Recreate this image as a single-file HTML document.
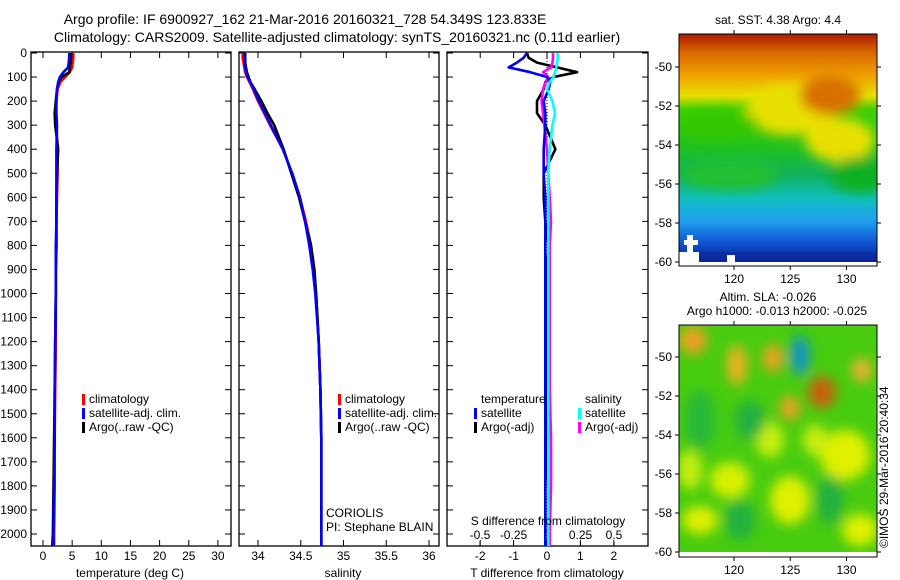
<!DOCTYPE html>
<html><head><meta charset="utf-8">
<style>
html,body{margin:0;padding:0;background:#fff;}
svg{display:block;font-family:"Liberation Sans",sans-serif;}
text{font-size:12px;fill:#000;}
.big{font-size:14px;}
</style></head>
<body>
<svg id="fig" width="900" height="580" viewBox="0 0 900 580" xmlns="http://www.w3.org/2000/svg">
<defs>
<filter id="blur6" x="-20%" y="-20%" width="140%" height="140%"><feGaussianBlur stdDeviation="6"/></filter>
<clipPath id="clipTop"><rect x="679" y="34" width="198" height="228"/></clipPath>
<clipPath id="clipBot"><rect x="679" y="325" width="198" height="227"/></clipPath>
<linearGradient id="sstGrad" x1="0" y1="0" x2="0" y2="1">
<stop offset="0" stop-color="#b01a00"/>
<stop offset="0.08" stop-color="#d86800"/>
<stop offset="0.18" stop-color="#f0a000"/>
<stop offset="0.27" stop-color="#e8e000"/>
<stop offset="0.33" stop-color="#40d000"/>
<stop offset="0.5" stop-color="#20c020"/>
<stop offset="0.62" stop-color="#10b060"/>
<stop offset="0.72" stop-color="#10c0c0"/>
<stop offset="0.82" stop-color="#20a0f0"/>
<stop offset="0.92" stop-color="#1050d0"/>
<stop offset="1" stop-color="#002090"/>
</linearGradient>
</defs>
<g id="titles">
<text class="big" x="305" y="24" text-anchor="middle">Argo profile: IF 6900927_162 21-Mar-2016 20160321_728 54.349S 123.833E</text>
<text class="big" x="337" y="42" text-anchor="middle">Climatology: CARS2009. Satellite-adjusted climatology: synTS_20160321.nc (0.11d earlier)</text>
</g>
<g id="p1"></g>
<g id="p2"></g>
<g id="p3"></g>
<g id="m1">
<text x="778" y="24" text-anchor="middle">sat. SST: 4.38 Argo: 4.4</text>
<g clip-path="url(#clipTop)">
<rect x="679" y="34" width="198" height="228" fill="url(#sstGrad)"/>
<g filter="url(#blur6)">
<ellipse cx="790" cy="110" rx="45" ry="25" fill="#e8e000"/>
<ellipse cx="840" cy="140" rx="35" ry="22" fill="#e8e000"/>
<ellipse cx="830" cy="95" rx="30" ry="20" fill="#d87000"/>
<ellipse cx="720" cy="125" rx="40" ry="14" fill="#30c800"/>
<ellipse cx="730" cy="175" rx="50" ry="15" fill="#20c030"/>
<ellipse cx="860" cy="175" rx="30" ry="18" fill="#10b020"/>
</g>
<rect x="679" y="252" width="198" height="10" fill="#102a98" opacity="0.6"/>
<rect x="679" y="252" width="20" height="10" fill="#fff"/>
<rect x="687" y="235" width="6" height="27" fill="#fff"/>
<rect x="684" y="240" width="14" height="5" fill="#fff"/>
<rect x="727" y="255" width="8" height="7" fill="#fff"/>
</g>
<rect x="679" y="34" width="198" height="232" fill="none" stroke="#000"/>
</g>
<g id="m2">
<text x="768" y="301" text-anchor="middle">Altim. SLA: -0.026</text>
<text x="777" y="315" text-anchor="middle">Argo h1000: -0.013 h2000: -0.025</text>
<g clip-path="url(#clipBot)">
<rect x="679" y="325" width="198" height="227" fill="#48cc10"/>
<g filter="url(#blur6)">
<ellipse cx="693" cy="340" rx="14" ry="14" fill="#f0a020"/>
<ellipse cx="737" cy="365" rx="10" ry="20" fill="#f0b020"/>
<ellipse cx="773" cy="358" rx="10" ry="14" fill="#f0a020"/>
<ellipse cx="800" cy="355" rx="9" ry="20" fill="#1090d0"/>
<ellipse cx="822" cy="392" rx="14" ry="16" fill="#c86010"/>
<ellipse cx="790" cy="408" rx="10" ry="12" fill="#f0a020"/>
<ellipse cx="862" cy="370" rx="10" ry="12" fill="#f0b030"/>
<ellipse cx="845" cy="455" rx="25" ry="25" fill="#e0f000"/>
<ellipse cx="730" cy="480" rx="20" ry="18" fill="#d8f000"/>
<ellipse cx="700" cy="520" rx="18" ry="14" fill="#e0f000"/>
<ellipse cx="790" cy="500" rx="20" ry="24" fill="#e0f000"/>
<ellipse cx="860" cy="530" rx="18" ry="16" fill="#e0f000"/>
<ellipse cx="770" cy="440" rx="14" ry="18" fill="#c8ee10"/>
<ellipse cx="690" cy="470" rx="12" ry="20" fill="#c8ee10"/>
<ellipse cx="815" cy="440" rx="12" ry="16" fill="#c8ee10"/>
<ellipse cx="750" cy="420" rx="15" ry="20" fill="#20b040"/>
<ellipse cx="700" cy="420" rx="15" ry="30" fill="#28b838"/>
<ellipse cx="740" cy="520" rx="15" ry="20" fill="#20b040"/>
<ellipse cx="830" cy="500" rx="14" ry="24" fill="#20b040"/>
</g>
</g>
<rect x="679" y="325" width="198" height="232" fill="none" stroke="#000"/>
<text transform="translate(888,548) rotate(-90)">©IMOS 29-Mar-2016 20:40:34</text>
</g>
</svg>
<script>
// ---------- data ----------
const depths = [0,20,40,60,80,100,120,150,200,250,300,400,500,600,700,800,900,1000,1200,1400,1600,1800,2000,2050];
const tempClim = [5.2,5.2,5.1,5.0,4.6,3.8,3.0,2.5,2.3,2.2,2.3,2.5,2.5,2.4,2.3,2.3,2.2,2.2,2.2,2.1,2.0,2.0,1.9,1.9];
const tempSat  = [4.5,4.5,4.4,4.3,3.5,2.9,2.6,2.4,2.3,2.3,2.4,2.3,2.3,2.3,2.3,2.2,2.2,2.2,2.1,2.0,2.0,1.9,1.8,1.8];
const tempArgo = [4.8,4.8,4.7,4.6,4.5,3.2,2.7,2.4,2.2,2.0,2.1,2.6,2.4,2.3,2.3,2.3,2.2,2.2,2.1,2.0,1.9,1.8,1.7,1.6];
const salClim = [33.82,33.82,33.83,33.84,33.85,33.87,33.9,33.94,34.0,34.07,34.14,34.29,34.4,34.49,34.56,34.62,34.65,34.68,34.71,34.73,34.74,34.74,34.74,34.74];
const salSat  = [33.84,33.84,33.84,33.85,33.86,33.88,33.91,33.95,34.01,34.08,34.15,34.29,34.4,34.49,34.55,34.6,34.64,34.67,34.71,34.73,34.74,34.74,34.74,34.74];
const salArgo = [33.85,33.85,33.85,33.86,33.87,33.89,33.91,33.96,34.04,34.11,34.19,34.3,34.39,34.48,34.55,34.62,34.66,34.68,34.71,34.73,34.74,34.74,34.74,34.74];
const dtSat  = [-0.6,-0.7,-0.9,-1.15,-0.5,0.0,0.1,0.05,-0.1,-0.05,-0.05,-0.1,-0.1,-0.05,-0.05,-0.05,-0.05,-0.05,-0.05,-0.05,-0.05,-0.05,-0.05,-0.05];
const dtArgo = [-0.6,-0.55,-0.3,0.3,0.9,0.2,-0.05,-0.1,-0.3,-0.3,-0.05,0.25,-0.1,-0.1,-0.05,0.05,0.0,0.0,0.0,0.0,0.0,-0.05,-0.05,-0.05];
const dsSat  = [0.08,0.08,0.075,0.07,0.06,0.05,0.02,0.0,0.04,0.06,0.04,0.02,0.01,0.01,0.01,0.01,0.01,0.01,0.01,0.01,0.01,0.01,0.01,0.01];
const dsArgo = [0.045,0.045,0.04,0.03,-0.03,0.01,-0.01,-0.03,-0.04,-0.03,-0.02,0.0,0.01,0.02,0.03,0.02,0.02,0.02,0.02,0.02,0.03,0.03,0.02,0.02];
const depthTicks = [0,100,200,300,400,500,600,700,800,900,1000,1100,1200,1300,1400,1500,1600,1700,1800,1900,2000];
const tempTicks = [0,5,10,15,20,25,30];
const salTicks = [34,34.5,35,35.5,36];
const salTickLabels = ["34","34.5","35","35.5","36"];
const dtTicks = [-2,-1,0,1,2];
const dsTicks = [-0.5,-0.25,0,0.25,0.5];
const dsTickLabels = ["-0.5","-0.25","0","0.25","0.5"];
const latTicks = [-50,-52,-54,-56,-58,-60];
const lonTicks = [120,125,130];

// ---------- helpers ----------
const NS="http://www.w3.org/2000/svg";
function mk(tag, attrs, parent){const e=document.createElementNS(NS,tag);for(const k in attrs)e.setAttribute(k,attrs[k]);parent.appendChild(e);return e;}
const Y0=53, YS=0.2405, TOP=52, BOT=546;
const yD = d => Y0 + d*YS;
const xT = v => 43 + v*5.83;
const xS = v => 258 + (v-34)*85.5;
const xDT = v => 547 + v*33.4;
const xDS = v => 547 + v*134;

function frame(g, x0, x1, leftLabels, name){
  const r=mk('rect',{x:x0,y:TOP,width:x1-x0,height:BOT-TOP,fill:'none',stroke:'#000','stroke-width':1.3},g);
  
  
  depthTicks.forEach(d=>{
    const y=yD(d);
    mk('line',{x1:x0,y1:y,x2:x0+6,y2:y,stroke:'#000'},g);
    mk('line',{x1:x1,y1:y,x2:x1-6,y2:y,stroke:'#000'},g);
    if(leftLabels){
      const t=mk('text',{x:x0-4,y:y+4,'text-anchor':'end'},g);
      t.textContent=d;
      
      
    }
  });
}
function xticks(g, vals, labels, fx, ylab, name){
  vals.forEach((v,i)=>{
    const x=fx(v);
    mk('line',{x1:x,y1:BOT,x2:x,y2:BOT-6,stroke:'#000'},g);
    mk('line',{x1:x,y1:TOP,x2:x,y2:TOP+6,stroke:'#000'},g);
    const t=mk('text',{x:x,y:ylab,'text-anchor':'middle'},g);
    t.textContent=labels[i];
    
    
  });
}
function line(g, vals, fx, color, name, w){
  const pts=vals.map((v,i)=>fx(v).toFixed(1)+','+yD(depths[i]).toFixed(1)).join(' ');
  const p=mk('polyline',{points:pts,fill:'none',stroke:color,'stroke-width':w||2.6,'stroke-linejoin':'round'},g);
  
  
}
function legend(g, x, y, color, label, name){
  mk('rect',{x:x,y:y-9,width:3,height:11,fill:color},g);
  const t=mk('text',{x:x+7,y:y},g);
  t.textContent=label;
  
  
}
function label(g,x,y,txt,name,anchor){
  const t=mk('text',{x:x,y:y,'text-anchor':anchor||'middle'},g);
  t.textContent=txt;
  
  
}

// ---------- panel 1 ----------
const p1=document.getElementById('p1');
frame(p1,31,231,true,'temperature-panel');
xticks(p1,tempTicks,tempTicks.map(String),xT,560,'temperature-tick-label');
line(p1,tempClim,xT,'#ff0000','temperature-climatology-line');
line(p1,tempArgo,xT,'#000000','temperature-argo-line');
line(p1,tempSat,xT,'#0000ff','temperature-satellite-line');
label(p1,130,577,'temperature (deg C)','temperature-axis-title');
legend(p1,82,403,'#ff0000','climatology','legend-climatology');
legend(p1,82,417,'#0000ff','satellite-adj. clim.','legend-satellite');
legend(p1,82,431,'#000000','Argo(..raw -QC)','legend-argo');

// ---------- panel 2 ----------
const p2=document.getElementById('p2');
frame(p2,239,439,false,'salinity-panel');
xticks(p2,salTicks,salTickLabels,xS,560,'salinity-tick-label');
line(p2,salClim,xS,'#ff0000','salinity-climatology-line');
line(p2,salArgo,xS,'#000000','salinity-argo-line');
line(p2,salSat,xS,'#0000ff','salinity-satellite-line');
label(p2,343,577,'salinity','salinity-axis-title');
legend(p2,338,403,'#ff0000','climatology','legend-climatology');
legend(p2,338,417,'#0000ff','satellite-adj. clim.','legend-satellite');
legend(p2,338,431,'#000000','Argo(..raw -QC)','legend-argo');
label(p2,326,517,'CORIOLIS','data-centre-label','start');
label(p2,326,531,'PI: Stephane BLAIN','pi-label','start');

// ---------- panel 3 ----------
const p3=document.getElementById('p3');
frame(p3,447,648,false,'difference-panel');
xticks(p3,dtTicks,dtTicks.map(String),xDT,560,'t-difference-tick-label');
mk('line',{x1:547,y1:TOP,x2:547,y2:BOT,stroke:'#000','stroke-dasharray':'1,2'},p3);
dsTicks.forEach((v,i)=>{
  const x=xDS(v);
  mk('line',{x1:x,y1:BOT,x2:x,y2:BOT-4,stroke:'#000'},p3);
  const t=mk('text',{x:x,y:539,'text-anchor':'middle'},p3);
  t.textContent=dsTickLabels[i];
  
  
});
line(p3,dtArgo,xDT,'#000000','t-difference-argo-line');
line(p3,dsArgo,xDS,'#ff00ff','s-difference-argo-line');
line(p3,dtSat,xDT,'#0000ff','t-difference-satellite-line');
line(p3,dsSat,xDS,'#00ffff','s-difference-satellite-line');
label(p3,548,525,'S difference from climatology','s-difference-axis-title');
label(p3,547,577,'T difference from climatology','t-difference-axis-title');
label(p3,481,403,'temperature','legend-temperature-header','start');
label(p3,585,403,'salinity','legend-salinity-header','start');
legend(p3,474,417,'#0000ff','satellite','legend-t-satellite');
legend(p3,474,431,'#000000','Argo(-adj)','legend-t-argo');
legend(p3,578,417,'#00ffff','satellite','legend-s-satellite');
legend(p3,578,431,'#ff00ff','Argo(-adj)','legend-s-argo');

// ---------- map axes ----------
function mapAxes(gid, top, bot, yLat50, yLat60, name){
  const g=document.getElementById(gid);
  const fy = lat => yLat50 + (-50-lat)*(yLat60-yLat50)/10;
  const fx = lon => 734 + (lon-120)*11.25;
  latTicks.forEach(l=>{
    const y=fy(l);
    mk('line',{x1:679,y1:y,x2:675,y2:y,stroke:'#000'},g);
    mk('line',{x1:877,y1:y,x2:881,y2:y,stroke:'#000'},g);
    const t=mk('text',{x:672,y:y+4,'text-anchor':'end'},g);
    t.textContent=l;
    
    
  });
  lonTicks.forEach(l=>{
    const x=fx(l);
    mk('line',{x1:x,y1:top,x2:x,y2:top-4,stroke:'#000'},g);
    mk('line',{x1:x,y1:bot,x2:x,y2:bot+4,stroke:'#000'},g);
    const t=mk('text',{x:x,y:bot+17,'text-anchor':'middle'},g);
    t.textContent=l;
    
    
  });
}
mapAxes('m1',34,266,67,262,'sst-map');
mapAxes('m2',325,557,357,552,'sla-map');
</script>
</body></html>
